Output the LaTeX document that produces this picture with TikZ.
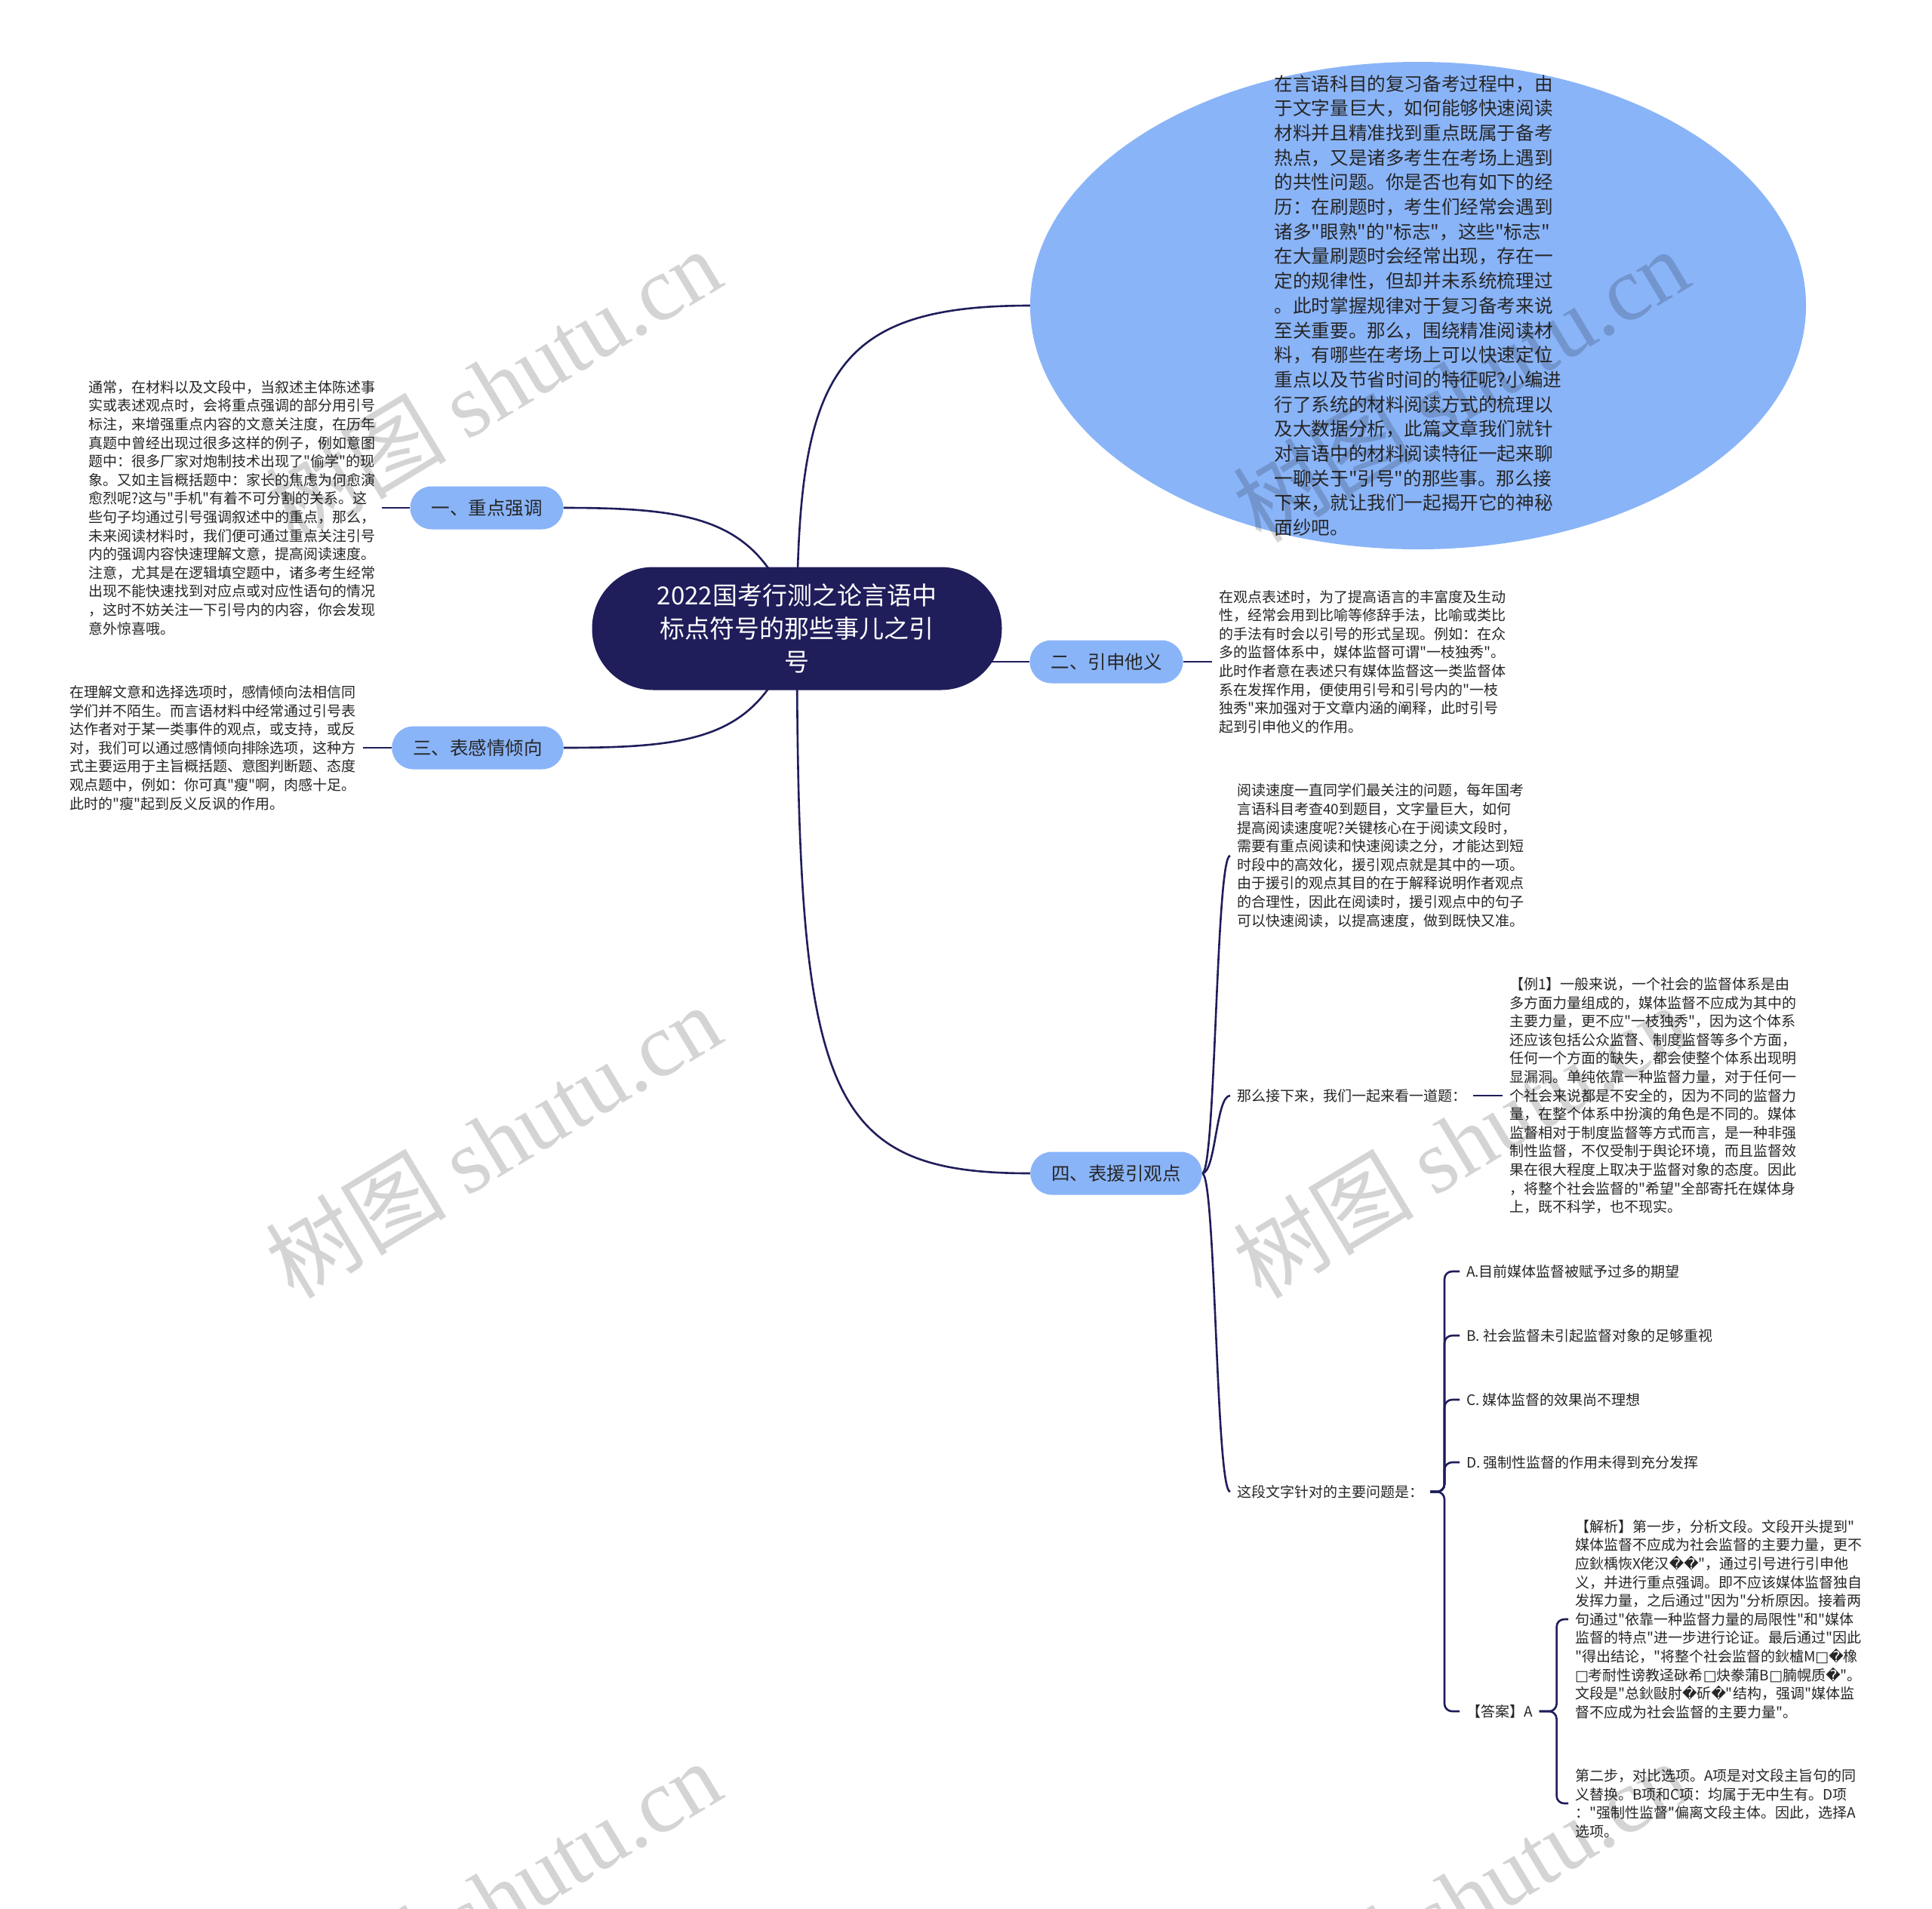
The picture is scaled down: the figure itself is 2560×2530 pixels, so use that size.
\documentclass[tikz,border=0pt]{standalone}
\usepackage{fontspec}
\setmainfont{Noto Sans CJK SC}[Ligatures=TeXOff]
\newfontfamily\wmlatin{Liberation Serif}
\newfontfamily\dejavu{DejaVu Sans}
\usetikzlibrary{shapes.geometric}
\pgfdeclarelayer{bg}
\pgfdeclarelayer{wmk}
\pgfsetlayers{bg,main,wmk}
\definecolor{navy}{HTML}{1F1D5A}
\definecolor{lblue}{HTML}{8AB4F8}
\definecolor{txt}{HTML}{262626}
\newcommand\rp{{\dejavu\char"FFFD}}
\newcommand\bx{{\dejavu\char"25A1}}
\tikzset{
  edge/.style={draw=navy, line width=2.6pt},
  rootnode/.style={fill=navy, text=white, rounded corners=81pt, minimum width=543pt, minimum height=163pt, align=center, inner sep=0pt, font=\fontsize{33}{44}\selectfont},
  topic/.style={fill=lblue, text=txt, rounded corners=28.5pt, minimum height=57pt, inner xsep=28pt, inner ysep=0pt, font=\fontsize{24.5}{30}\selectfont},
  leaf/.style={text=txt, align=left, inner sep=0pt, outer xsep=9pt, font=\fontsize{19}{24.6}\selectfont},
  introshape/.style={ellipse, fill=lblue, minimum width=1028pt, minimum height=646pt, inner sep=0pt},
  introtext/.style={text=txt, align=left, inner sep=0pt, font=\fontsize{24.6}{32.7}\selectfont},
  wm/.style={text=black, text opacity=0.17, rotate=31, inner sep=0pt, font=\fontsize{120}{120}\selectfont}
}
\begin{document}
\begin{tikzpicture}[x=1pt,y=-1pt]
\useasboundingbox (0,0) rectangle (2560,2530);
% central topic
\node[rootnode] (root) at (1056,833) {2022国考行测之论言语中\\标点符号的那些事儿之引\\号};
% intro ellipse
\node[introshape] (intro) at (1879,405) {};
\node[introtext] (introtxt) at (intro.center) {在言语科目的复习备考过程中，由\\
于文字量巨大，如何能够快速阅读\\
材料并且精准找到重点既属于备考\\
热点，又是诸多考生在考场上遇到\\
的共性问题。你是否也有如下的经\\
历：在刷题时，考生们经常会遇到\\
诸多"眼熟"的"标志"，这些"标志"\\
在大量刷题时会经常出现，存在一\\
定的规律性，但却并未系统梳理过\\
。此时掌握规律对于复习备考来说\\
至关重要。那么，围绕精准阅读材\\
料，有哪些在考场上可以快速定位\\
重点以及节省时间的特征呢?小编进\\
行了系统的材料阅读方式的梳理以\\
及大数据分析，此篇文章我们就针\\
对言语中的材料阅读特征一起来聊\\
一聊关于"引号"的那些事。那么接\\
下来，就让我们一起揭开它的神秘\\
面纱吧。};
% main topics
\node[topic] (z1) at (645,673) {一、重点强调};
\node[topic] (z3) at (633,991) {三、表感情倾向};
\node[topic] (z2) at (1466,877) {二、引申他义};
\node[topic] (z4) at (1479,1555) {四、表援引观点};
% leaves of z1, z3
\node[leaf, anchor=east] (t1) at (506,673) {通常，在材料以及文段中，当叙述主体陈述事\\
实或表述观点时，会将重点强调的部分用引号\\
标注，来增强重点内容的文意关注度，在历年\\
真题中曾经出现过很多这样的例子，例如意图\\
题中：很多厂家对炮制技术出现了"偷学"的现\\
象。又如主旨概括题中：家长的焦虑为何愈演\\
愈烈呢?这与"手机"有着不可分割的关系。这\\
些句子均通过引号强调叙述中的重点，那么，\\
未来阅读材料时，我们便可通过重点关注引号\\
内的强调内容快速理解文意，提高阅读速度。\\
注意，尤其是在逻辑填空题中，诸多考生经常\\
出现不能快速找到对应点或对应性语句的情况\\
，这时不妨关注一下引号内的内容，你会发现\\
意外惊喜哦。};
\node[leaf, anchor=east] (t3) at (481,991) {在理解文意和选择选项时，感情倾向法相信同\\
学们并不陌生。而言语材料中经常通过引号表\\
达作者对于某一类事件的观点，或支持，或反\\
对，我们可以通过感情倾向排除选项，这种方\\
式主要运用于主旨概括题、意图判断题、态度\\
观点题中，例如：你可真"瘦"啊，肉感十足。\\
此时的"瘦"起到反义反讽的作用。};
% leaf of z2
\node[leaf, anchor=west] (t2) at (1606,877) {在观点表述时，为了提高语言的丰富度及生动\\
性，经常会用到比喻等修辞手法，比喻或类比\\
的手法有时会以引号的形式呈现。例如：在众\\
多的监督体系中，媒体监督可谓"一枝独秀"。\\
此时作者意在表述只有媒体监督这一类监督体\\
系在发挥作用，便使用引号和引号内的"一枝\\
独秀"来加强对于文章内涵的阐释，此时引号\\
起到引申他义的作用。};
% leaves of z4
\node[leaf, anchor=west] (a1) at (1630,1134) {阅读速度一直同学们最关注的问题，每年国考\\
言语科目考查40到题目，文字量巨大，如何\\
提高阅读速度呢?关键核心在于阅读文段时，\\
需要有重点阅读和快速阅读之分，才能达到短\\
时段中的高效化，援引观点就是其中的一项。\\
由于援引的观点其目的在于解释说明作者观点\\
的合理性，因此在阅读时，援引观点中的句子\\
可以快速阅读，以提高速度，做到既快又准。};
\node[leaf, anchor=west] (n) at (1630,1452) {那么接下来，我们一起来看一道题：};
\node[leaf, anchor=west] (ex1) at (1991,1452) {【例1】一般来说，一个社会的监督体系是由\\
多方面力量组成的，媒体监督不应成为其中的\\
主要力量，更不应"一枝独秀"，因为这个体系\\
还应该包括公众监督、制度监督等多个方面，\\
任何一个方面的缺失，都会使整个体系出现明\\
显漏洞。单纯依靠一种监督力量，对于任何一\\
个社会来说都是不安全的，因为不同的监督力\\
量，在整个体系中扮演的角色是不同的。媒体\\
监督相对于制度监督等方式而言，是一种非强\\
制性监督，不仅受制于舆论环境，而且监督效\\
果在很大程度上取决于监督对象的态度。因此\\
，将整个社会监督的"希望"全部寄托在媒体身\\
上，既不科学，也不现实。};
\node[leaf, anchor=west] (q) at (1630,1977) {这段文字针对的主要问题是：};
\node[leaf, anchor=west] (oa) at (1934,1685) {A.目前媒体监督被赋予过多的期望};
\node[leaf, anchor=west] (ob) at (1934,1770) {B. 社会监督未引起监督对象的足够重视};
\node[leaf, anchor=west] (oc) at (1934,1855) {C. 媒体监督的效果尚不理想};
\node[leaf, anchor=west] (od) at (1934,1938) {D. 强制性监督的作用未得到充分发挥};
\node[leaf, anchor=west] (ans) at (1934,2268) {【答案】A};
\node[leaf, anchor=west] (jx) at (2078,2146) {【解析】第一步，分析文段。文段开头提到"\\
媒体监督不应成为社会监督的主要力量，更不\\
应鈥楀恢X佬汉\rp{}\rp{}"，通过引号进行引申他\\
义，并进行重点强调。即不应该媒体监督独自\\
发挥力量，之后通过"因为"分析原因。接着两\\
句通过"依靠一种监督力量的局限性"和"媒体\\
监督的特点"进一步进行论证。最后通过"因此\\
"得出结论，"将整个社会监督的鈥樝M\bx{}\rp{}橡\\
\bx{}考耐性谤教迳砯希\bx{}炔豢蒲B\bx{}腩幌质\rp{}"。\\
文段是"总鈥敺肘\rp{}斫\rp{}"结构，强调"媒体监\\
督不应成为社会监督的主要力量"。};
\node[leaf, anchor=west] (s2) at (2078,2390) {第二步，对比选项。A项是对文段主旨句的同\\
义替换。B项和C项：均属于无中生有。D项\\
："强制性监督"偏离文段主体。因此，选择A\\
选项。};
% connectors
\begin{pgfonlayer}{bg}
\fill[white] (0,0) rectangle (2560,2530);
\draw[edge] (root.center) .. controls (1056,500) and (1100,405) .. (intro.west);
\draw[edge] (root.center) .. controls (1010,690) and (930,673) .. (z1.east);
\draw[edge] (root.center) .. controls (1010,976) and (930,991) .. (z3.east);
\draw[edge] (root.center |- z2.west) -- (z2.west);
\draw[edge] (root.center) .. controls (1056,1450) and (1090,1555) .. (z4.west);
\draw[edge] (t1.east) -- (z1.west);
\draw[edge] (z3.west) -- (t3.east);
\draw[edge] (z2.east) -- (t2.west);
\draw[edge] (z4.east) .. controls (1611,1555) and (1611,1134) .. (a1.west);
\draw[edge] (z4.east) .. controls (1611,1555) and (1611,1452) .. (n.west);
\draw[edge] (z4.east) .. controls (1611,1555) and (1611,1977) .. (q.west);
\draw[edge] (n.east) -- (ex1.west);
\foreach \c in {oa,ob,oc,od,ans} {\draw[edge, rounded corners=10pt] (q.east) -- ++(19,0) |- (\c.west);}
\foreach \c in {jx,s2} {\draw[edge, rounded corners=10pt] (ans.east) -- ++(23,0) |- (\c.west);}
\end{pgfonlayer}
% watermarks
\begin{pgfonlayer}{wmk}
\node[wm] (w1) at (653,510) {树图 {\wmlatin shutu.cn}};
\node[wm] (w2) at (1935,510) {树图 {\wmlatin shutu.cn}};
\node[wm] (w3) at (653,1512) {树图 {\wmlatin shutu.cn}};
\node[wm] (w4) at (1935,1512) {树图 {\wmlatin shutu.cn}};
\node[wm] (w5) at (653,2514) {树图 {\wmlatin shutu.cn}};
\node[wm] (w6) at (1935,2514) {树图 {\wmlatin shutu.cn}};
\end{pgfonlayer}
\end{tikzpicture}
\end{document}
